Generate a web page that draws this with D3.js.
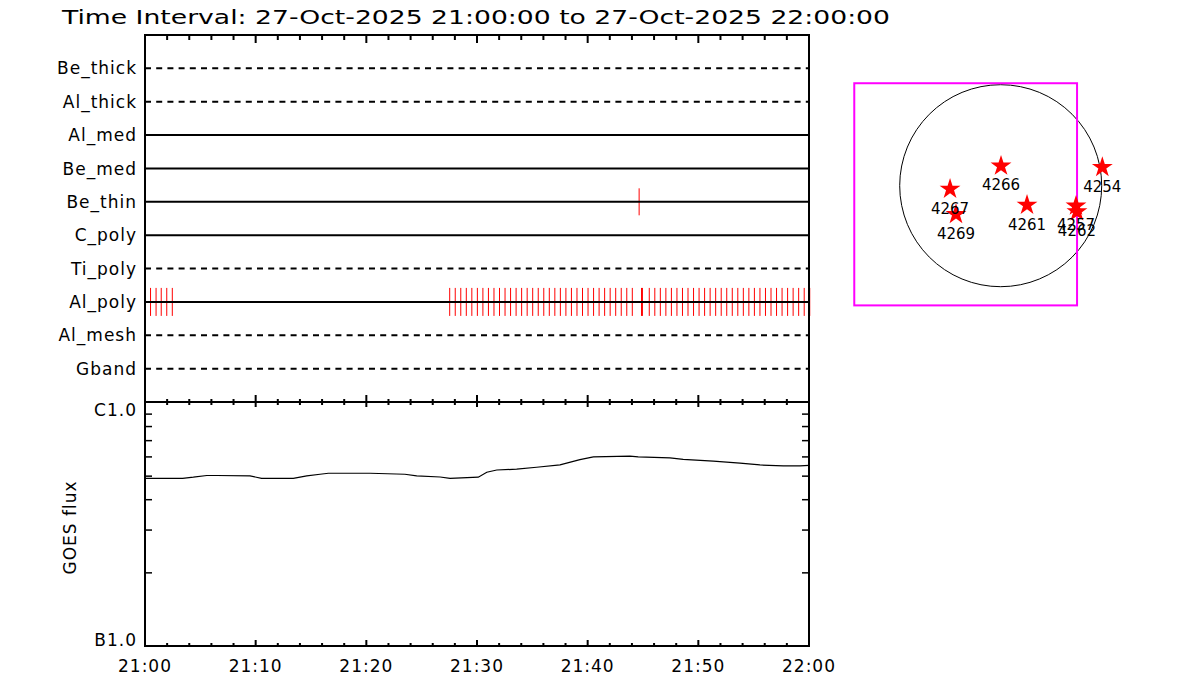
<!DOCTYPE html>
<html><head><meta charset="utf-8">
<script src="https://cdn.jsdelivr.net/npm/d3@7"></script>
<style>
body{margin:0;background:#fff}
svg{display:block}
text{font-family:"DejaVu Sans",sans-serif;fill:#000}
</style>
</head><body>
<svg id="c" width="1200" height="700"></svg>
<script>
// ---------------- data ----------------
const titleText = "Time Interval: 27-Oct-2025 21:00:00 to 27-Oct-2025 22:00:00";
const day = "2025-10-27";
const timeDomain = ["21:00:00", "22:00:00"];

const filters = ["Be_thick","Al_thick","Al_med","Be_med","Be_thin","C_poly","Ti_poly","Al_poly","Al_mesh","Gband"];
const filterDashed = [true, true, false, false, false, false, true, false, true, true];

const alPolyTimes = [
  "21:00:30","21:01:00","21:01:28","21:01:58","21:02:28",
  "21:27:32","21:28:02","21:28:32","21:29:02","21:29:32","21:30:02","21:30:32","21:31:02","21:31:32",
  "21:32:02","21:32:32","21:33:02","21:33:32","21:34:02","21:34:32","21:35:02","21:35:32","21:36:02",
  "21:36:32","21:37:02","21:37:32","21:38:02","21:38:32","21:39:02","21:39:32","21:40:02","21:40:32",
  "21:41:02","21:41:32","21:42:02","21:42:32","21:43:02","21:43:32","21:44:02",
  "21:44:52","21:44:57",
  "21:45:34","21:46:04","21:46:34","21:47:04","21:47:34","21:48:04","21:48:34","21:49:04","21:49:34",
  "21:50:04","21:50:34","21:51:04","21:51:34","21:52:04","21:52:34","21:53:04","21:53:34","21:54:04",
  "21:54:34","21:55:04","21:55:34","21:56:04","21:56:34","21:57:04","21:57:34","21:58:04","21:58:34",
  "21:59:04","21:59:34","22:00:04"
];
const beThinTimes = ["21:44:39"];

const goesTimes = ["21:00:00","21:03:24","21:04:22","21:05:35","21:06:29","21:09:29","21:10:32","21:13:24",
  "21:14:37","21:15:49","21:16:34","21:20:20","21:23:29","21:24:33","21:26:40","21:27:34","21:30:07",
  "21:30:53","21:31:47","21:33:35","21:35:23","21:37:30","21:39:18","21:40:31","21:43:49","21:44:34",
  "21:47:26","21:48:38","21:51:21","21:53:46","21:55:34","21:57:41","21:59:11","22:00:00"];
const goesFlux = [4.90e-7,4.90e-7,4.95e-7,5.03e-7,5.03e-7,5.01e-7,4.90e-7,4.90e-7,
  5.01e-7,5.09e-7,5.14e-7,5.14e-7,5.09e-7,5.01e-7,4.96e-7,4.90e-7,4.95e-7,
  5.19e-7,5.30e-7,5.34e-7,5.44e-7,5.56e-7,5.85e-7,6.00e-7,6.04e-7,6.00e-7,
  5.94e-7,5.86e-7,5.77e-7,5.66e-7,5.56e-7,5.51e-7,5.51e-7,5.54e-7];

const fluxDomain = [1e-7, 1e-6];
const fluxTickValues = [1e-6, 1e-7];
const fluxTickLabels = ["C1.0", "B1.0"];
const fluxMinorTicks = [2e-7,3e-7,4e-7,5e-7,6e-7,7e-7,8e-7,9e-7];
const yLabel = "GOES flux";
const timeTickLabels = ["21:00","21:10","21:20","21:30","21:40","21:50","22:00"];

// solar map (arcsec)
const sunRadius = 967;
const fovX = [-1402, 731];
const fovY = [-1146, 981];
const arNames = ["4266","4254","4267","4269","4261","4257","4262"];
const arX = [3, 973, -485, -428, 252, 721, 730];
const arY = [189, 176, -32, -274, -185, -194, -249];

// ---------------- layout ----------------
const L = 145, R = 809, T = 35, M = 402, B = 646;
const svg = d3.select("#c");
const parseT = d3.utcParse("%Y-%m-%d %H:%M:%S");
const toDate = s => parseT(day + " " + s);

const x = d3.scaleUtc().domain(timeDomain.map(toDate)).range([L, R]);
const yRow = d3.scaleLinear().domain([0, filters.length + 1]).range([T, M]);
const yFlux = d3.scaleLog().domain(fluxDomain).range([B, M + 1]);

// title
svg.append("text").attr("x", 62).attr("y", 24)
  .attr("font-size", 20).attr("textLength", 828).attr("lengthAdjust", "spacingAndGlyphs")
  .text(titleText);

// ---------- top panel ----------
const rows = svg.append("g");
// observation marks
const markG = svg.append("g");
const alIdx = filters.indexOf("Al_poly");
markG.selectAll("line.al").data(alPolyTimes).join("line")
  .attr("x1", d => x(toDate(d))).attr("x2", d => x(toDate(d)))
  .attr("y1", yRow(alIdx + 1) - 14).attr("y2", yRow(alIdx + 1) + 14)
  .attr("stroke", "#ff0000").attr("stroke-width", 1);
const btIdx = filters.indexOf("Be_thin");
markG.selectAll("line.bt").data(beThinTimes).join("line")
  .attr("x1", d => x(toDate(d))).attr("x2", d => x(toDate(d)))
  .attr("y1", yRow(btIdx + 1) - 13.5).attr("y2", yRow(btIdx + 1) + 13.5)
  .attr("stroke", "#ff0000").attr("stroke-width", 1);

rows.raise();
filters.forEach((f, i) => {
  const y = yRow(i + 1);
  rows.append("line").attr("x1", L).attr("x2", R).attr("y1", y).attr("y2", y)
    .attr("stroke", "#000").attr("stroke-width", 2)
    .attr("stroke-dasharray", filterDashed[i] ? "6,5.2" : null);
  rows.append("text").attr("x", 137).attr("y", y).attr("dy", "0.36em")
    .attr("text-anchor", "end").attr("font-size", 17).attr("letter-spacing", 1)
    .text(f);
});

// ---------- bottom panel ----------
const line = d3.line().x((d, i) => x(toDate(goesTimes[i]))).y(d => yFlux(d));
svg.append("path").datum(goesFlux).attr("d", line)
  .attr("fill", "none").attr("stroke", "#000").attr("stroke-width", 1.2);

// ---------- frames ----------
const frame = svg.append("g").attr("stroke", "#000").attr("stroke-width", 2).attr("stroke-linecap", "square");
frame.append("line").attr("x1", L).attr("x2", R).attr("y1", T).attr("y2", T);
frame.append("line").attr("x1", L).attr("x2", R).attr("y1", M).attr("y2", M);
frame.append("line").attr("x1", L).attr("x2", R).attr("y1", B).attr("y2", B);
frame.append("line").attr("x1", L).attr("x2", L).attr("y1", T).attr("y2", B);
frame.append("line").attr("x1", R).attr("x2", R).attr("y1", T).attr("y2", B);

// time ticks
const tTicks = x.ticks(d3.utcMinute.every(2));
const isMajor = d => d.getUTCMinutes() % 10 === 0;
const tg = svg.append("g").attr("stroke", "#000").attr("stroke-width", 2);
tTicks.forEach(d => {
  const xx = x(d), mj = isMajor(d);
  if (xx <= L + 1 || xx >= R - 1) return;
  tg.append("line").attr("x1", xx).attr("x2", xx).attr("y1", T).attr("y2", T + (mj ? 8 : 5));
  tg.append("line").attr("x1", xx).attr("x2", xx).attr("y1", M - (mj ? 7 : 3)).attr("y2", M + (mj ? 5 : 3));
  tg.append("line").attr("x1", xx).attr("x2", xx).attr("y1", B).attr("y2", B - (mj ? 6 : 3));
});
// flux minor ticks
fluxMinorTicks.forEach(v => {
  const yy = yFlux(v);
  tg.append("line").attr("x1", L).attr("x2", L + 7).attr("y1", yy).attr("y2", yy).attr("stroke-width", 1.5);
  tg.append("line").attr("x1", R).attr("x2", R - 7).attr("y1", yy).attr("y2", yy).attr("stroke-width", 1.5);
});

// time labels
x.ticks(d3.utcMinute.every(10)).forEach((d, i) => {
  svg.append("text").attr("x", x(d)).attr("y", 672).attr("text-anchor", "middle")
    .attr("font-size", 17).attr("letter-spacing", 1).text(timeTickLabels[i]);
});
// flux labels
fluxTickValues.forEach((v, i) => {
  const top = v === fluxDomain[1];
  svg.append("text").attr("x", 137).attr("y", yFlux(v) + (top ? 13 : -0.5))
    .attr("text-anchor", "end").attr("font-size", 17).attr("letter-spacing", 1)
    .text(fluxTickLabels[i]);
});
svg.append("text").attr("transform", `translate(76,${(yFlux(fluxDomain[0]) + yFlux(fluxDomain[1])) / 2 + 3}) rotate(-90)`)
  .attr("text-anchor", "middle").attr("font-size", 17).attr("letter-spacing", 1).text(yLabel);

// ---------- solar map ----------
const cx = 1000.7, cy = 185.7, rpx = 101;
const sx = d3.scaleLinear().domain([-sunRadius, sunRadius]).range([cx - rpx, cx + rpx]);
const sy = d3.scaleLinear().domain([-sunRadius, sunRadius]).range([cy + rpx, cy - rpx]);
const map = svg.append("g");
map.append("circle").attr("cx", sx(0)).attr("cy", sy(0)).attr("r", sx(sunRadius) - sx(0))
  .attr("fill", "none").attr("stroke", "#000").attr("stroke-width", 1);
map.append("rect").attr("x", sx(fovX[0])).attr("y", sy(fovY[1]))
  .attr("width", sx(fovX[1]) - sx(fovX[0])).attr("height", sy(fovY[0]) - sy(fovY[1]))
  .attr("fill", "none").attr("stroke", "#ff00ff").attr("stroke-width", 2);
const star = d3.symbol(d3.symbolStar, 135);
arNames.forEach((n, i) => {
  map.append("path").attr("d", star())
    .attr("transform", `translate(${sx(arX[i])},${sy(arY[i])})`)
    .attr("fill", "#ff0000");
});
arNames.forEach((n, i) => {
  map.append("text").attr("x", sx(arX[i])).attr("y", sy(arY[i]) + 24.5)
    .attr("text-anchor", "middle").attr("font-size", 15).text(n);
});
</script>
</body></html>
